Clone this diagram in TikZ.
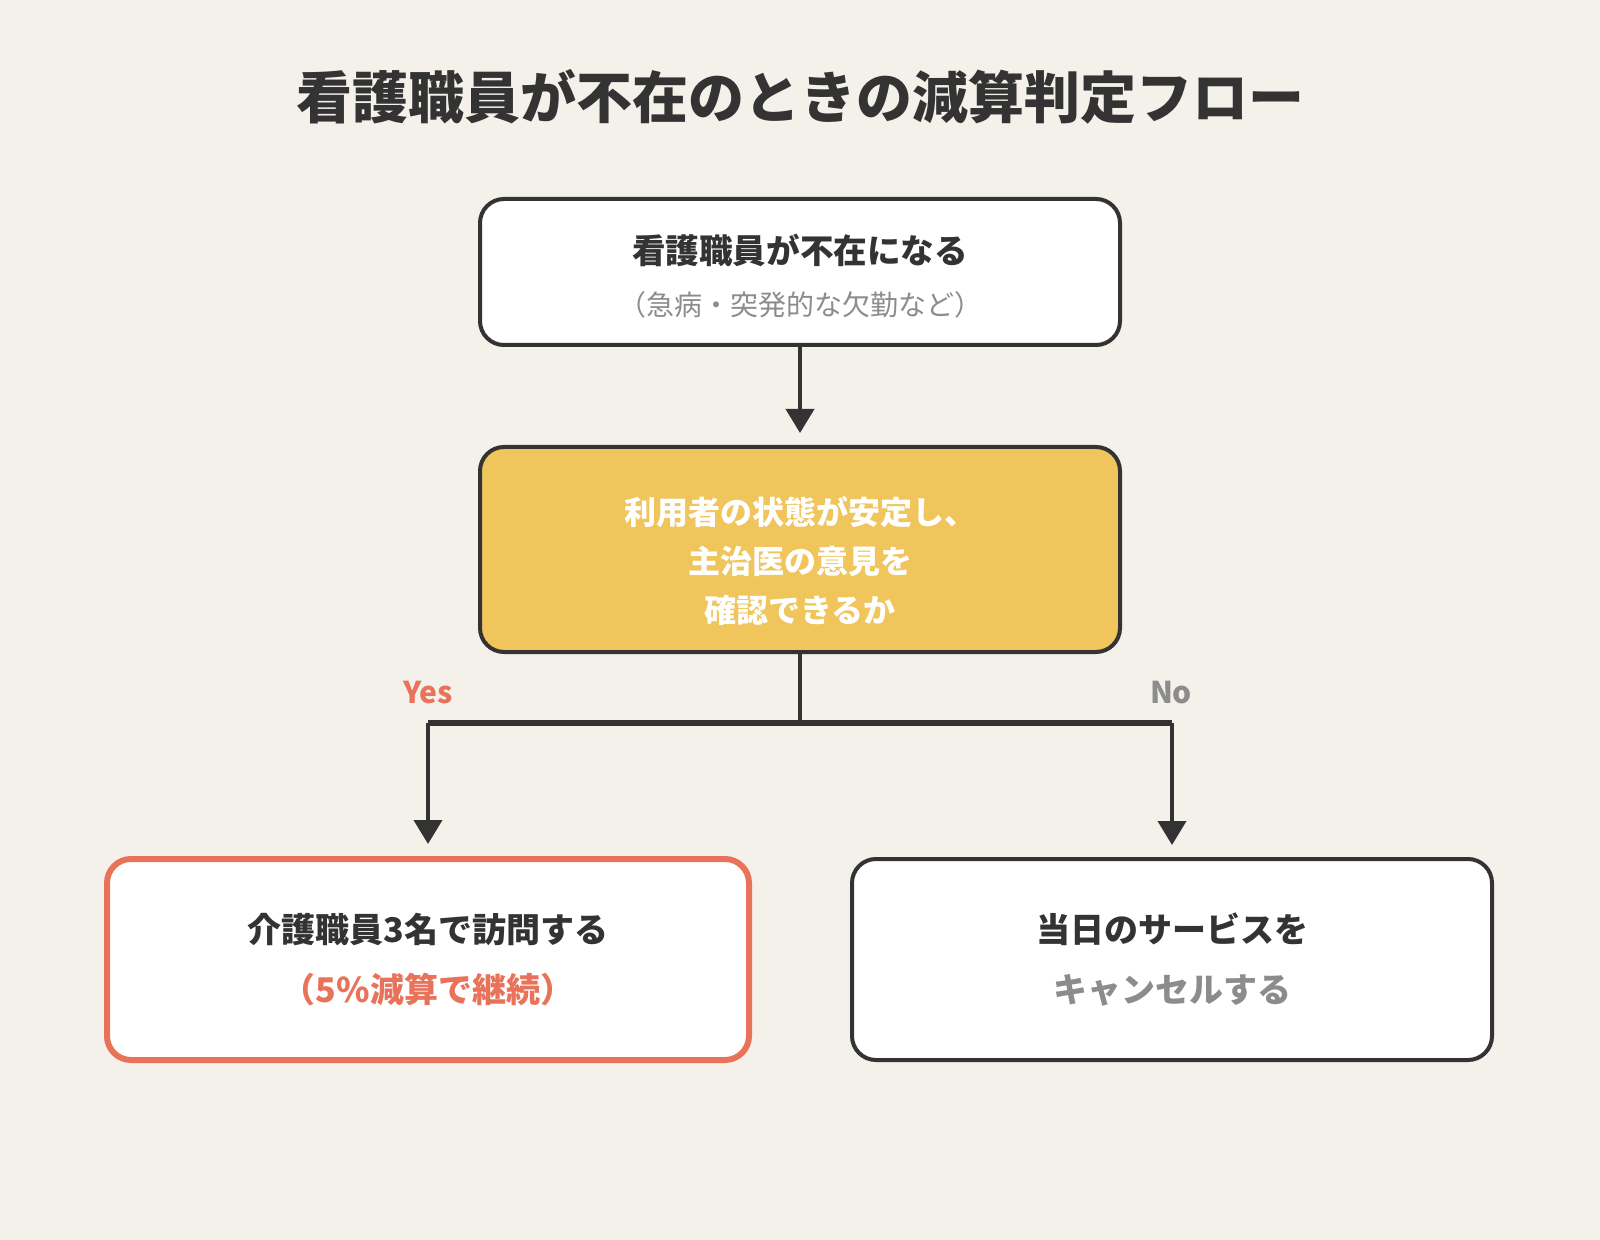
\documentclass[tikz,border=0pt]{standalone}
\usepackage{fontspec}
\setmainfont{Noto Sans CJK JP}
\usetikzlibrary{arrows.meta,positioning}
\definecolor{bgcream}{HTML}{F4F0EA}
\definecolor{inkdark}{HTML}{333333}
\definecolor{boxyellow}{HTML}{F0C55C}
\definecolor{accentred}{HTML}{E8735A}
\definecolor{softgray}{HTML}{8C8C8C}

\begin{document}
\begin{tikzpicture}[x=0.5pt, y=-0.5pt,
  box/.style={draw=inkdark, line width=2pt, rounded corners=12pt, fill=white,
    minimum width=320pt, align=center, text=inkdark},
  flow/.style={draw=inkdark, line width=2pt},
  tip/.style={-{Triangle[width=14pt,length=12pt]}, shorten >=6pt}]
  \fill[bgcream] (0,0) rectangle (1600,1240);
  \useasboundingbox (0,0) rectangle (1600,1240);
  \node[font=\fontsize{28}{30}\selectfont\bfseries, text=inkdark] (title) at (800,97)
    {看護職員が不在のときの減算判定フロー};
  % boxes
  \node[box, minimum height=73pt, font=\fontsize{16.8}{26}\selectfont\bfseries] (absent) at (800,272)
    {\rule{0pt}{19pt}看護職員が不在になる\\
     \fontsize{14}{26}\selectfont\mdseries\color{softgray}（急病・突発的な欠勤など）};
  \node[box, fill=boxyellow, text=white, minimum height=102.5pt,
    font=\fontsize{16}{24.5}\selectfont\bfseries] (check) at (800,549.5)
    {\rule{0pt}{26pt}利用者の状態が安定し、\\ 主治医の意見を\\ 確認できるか};
  \node[box, draw=accentred, line width=3pt, minimum width=321pt, minimum height=100.5pt,
    font=\fontsize{17}{30}\selectfont\bfseries] (visit) at (428,959.5)
    {介護職員3名で訪問する\\ \color{accentred}（5\%減算で継続）};
  \node[box, minimum height=100.5pt, font=\fontsize{17}{30}\selectfont\bfseries] (cancel) at (1172,959.5)
    {当日のサービスを\\ \color{softgray}キャンセルする};
  % branch labels
  \node[font=\fontsize{15}{16}\selectfont\bfseries, text=accentred] (yes) at (428,693) {Yes};
  \node[font=\fontsize{15}{16}\selectfont\bfseries, text=softgray] (no) at (1171,693) {No};
  % connectors
  \coordinate (fork) at (800,723);
  \coordinate (yesturn) at (visit.north |- fork);
  \coordinate (noturn) at (cancel.north |- fork);
  \draw[flow, tip] (absent) -- (check);
  \draw[flow] (check) -- (fork);
  \draw[flow, line width=3pt] (yesturn) -- (noturn);
  \draw[flow, tip] (yesturn) -- (visit);
  \draw[flow, tip] (noturn) -- (cancel);
\end{tikzpicture}
\end{document}
